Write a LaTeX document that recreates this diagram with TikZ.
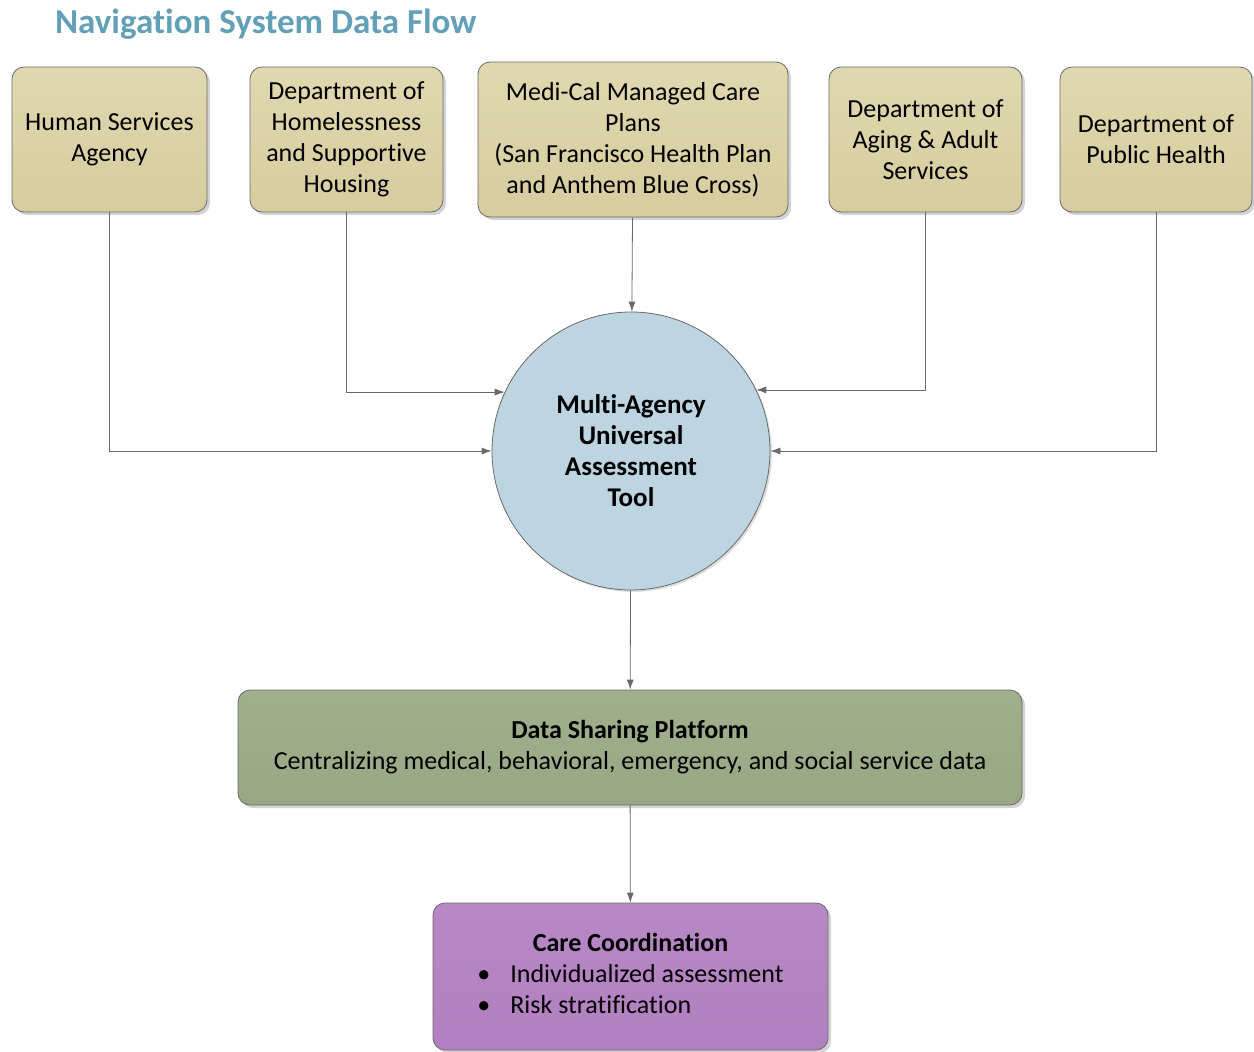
\documentclass[tikz,border=0pt]{standalone}
\usepackage{fontspec}
\setmainfont{Carlito}[Ligatures=NoCommon]
\usetikzlibrary{arrows.meta,shadows}
\definecolor{tanfill}{RGB}{214,204,158}
\definecolor{tantop}{RGB}{224,216,176}
\definecolor{bluefill}{RGB}{188,213,225}
\definecolor{greenfill}{RGB}{152,167,132}
\definecolor{greentop}{RGB}{160,176,140}
\definecolor{purplefill}{RGB}{178,128,192}
\definecolor{purpletop}{RGB}{184,136,198}
\definecolor{edgegray}{RGB}{105,105,105}
\definecolor{titleblue}{RGB}{98,160,184}
\tikzset{
  agency/.style={draw=edgegray, rounded corners=6pt, top color=tantop, bottom color=tanfill,
    minimum height=72.5pt, inner sep=0pt, align=center,
    font=\fontsize{13}{15.5}\selectfont,
    drop shadow={opacity=0.35, shadow xshift=1.5pt, shadow yshift=-1.5pt}},
  hub/.style={draw=edgegray, circle, fill=bluefill, minimum size=139pt, inner sep=0pt,
    align=center, font=\fontsize{13.5}{15.5}\selectfont\bfseries,
    drop shadow={opacity=0.25, shadow xshift=1pt, shadow yshift=-1pt}},
  platform/.style={draw=edgegray, rounded corners=6pt, top color=greentop, bottom color=greenfill,
    minimum width=392pt, minimum height=57.5pt, align=center,
    font=\fontsize{13}{15.5}\selectfont,
    drop shadow={opacity=0.35, shadow xshift=1.5pt, shadow yshift=-1.5pt}},
  care/.style={draw=edgegray, rounded corners=6pt, top color=purpletop, bottom color=purplefill,
    minimum width=197.5pt, minimum height=73.5pt, align=center,
    font=\fontsize{13}{15.5}\selectfont,
    drop shadow={opacity=0.35, shadow xshift=1.5pt, shadow yshift=-1.5pt}},
  flow/.style={draw=edgegray, -{Latex[length=5pt,width=3.5pt]}}
}
\begin{document}
\begin{tikzpicture}[x=0.5pt,y=-0.5pt]
  \useasboundingbox (0,0) rectangle (1254,1051);
  \node[anchor=west, text=titleblue, font=\fontsize{17.5}{20}\selectfont\bfseries] (title) at (48,24)
    {Navigation System Data Flow};
  \draw
    (109.5,139.5) node[agency, minimum width=97.5pt] (hsa) {Human Services\\Agency}
    (346.5,139.5) node[agency, minimum width=96.5pt] (dhsh) {Department of\\Homelessness\\and Supportive\\Housing}
    (633,139.5) node[agency, minimum width=155pt, minimum height=77.5pt] (mcmc)
      {Medi-Cal Managed Care\\Plans\\(San Francisco Health Plan\\and Anthem Blue Cross)}
    (925.5,139.5) node[agency, minimum width=96.5pt] (daas) {Department of\\Aging \& Adult\\Services}
    (1156,139.5) node[agency, minimum width=96pt] (dph) {Department of\\Public Health}
    (631,451) node[hub] (muat) {Multi-Agency\\Universal\\Assessment\\Tool}
    (630,747.5) node[platform] (dsp) {{\bfseries Data Sharing Platform}\\
      Centralizing medical, behavioral, emergency, and social service data}
    (630.5,976.5) node[care] (cc) {\begin{tabular}{@{}l@{\hspace{10pt}}l@{}}
      \multicolumn{2}{c}{\bfseries Care Coordination}\\
      \textbullet & Individualized assessment\\
      \textbullet & Risk stratification
      \end{tabular}};
  \begin{scope}[flow]
    \draw (hsa) |- (muat);
    \draw (dhsh) |- (muat.155);
    \draw (mcmc) to (muat);
    \draw (daas) |- (muat.26);
    \draw (dph) |- (muat);
    \draw (muat) to (dsp);
    \draw (dsp) to (cc);
  \end{scope}
\end{tikzpicture}
\end{document}
